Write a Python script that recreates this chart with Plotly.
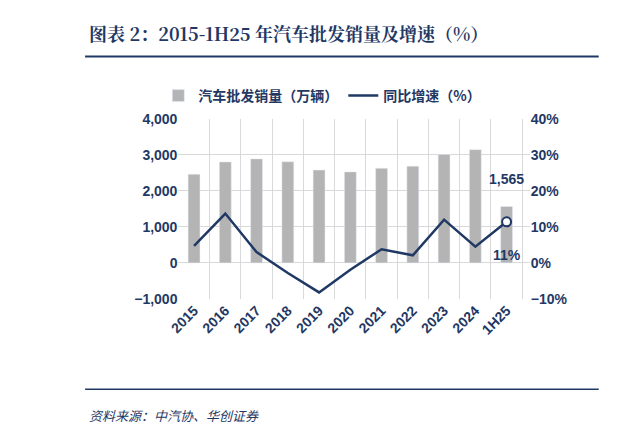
import plotly.graph_objects as go

years = ["2015","2016","2017","2018","2019","2020","2021","2022","2023","2024","1H25"]
sales = [2460, 2803, 2888, 2808, 2577, 2527, 2627, 2686, 3009, 3144, 1565]
growth = [4.7, 13.7, 3.0, -2.8, -8.2, -1.9, 3.8, 2.1, 12.0, 4.5, 11.4]

navy = "#1F3864"
bold = dict(size=14, color=navy, family="Liberation Sans, Arial", weight="bold")
fig = go.Figure()
fig.add_trace(go.Bar(x=years, y=sales, name="<b>汽车批发销量（万辆）</b>", marker_color="#B4B4B4", width=0.38))
fig.add_trace(go.Scatter(x=years, y=growth, name="<b>同比增速（%）</b>", yaxis="y2", mode="lines",
                         line=dict(color=navy, width=2.5)))
fig.add_trace(go.Scatter(x=[years[-1]], y=[growth[-1]], yaxis="y2", mode="markers", showlegend=False,
                         marker=dict(size=9, color="white", line=dict(color=navy, width=2))))
fig.add_annotation(x=years[-1], y=sales[-1], text=f"<b>{sales[-1]:,}</b>", showarrow=False, yshift=28,
                   font=bold)
fig.add_annotation(x=years[-1], y=growth[-1], yref="y2", text=f"<b>{round(growth[-1])}%</b>", showarrow=False,
                   yshift=-33, xshift=0, font=bold)
fig.add_annotation(xref="paper", yref="paper", x=0.113, y=0.995, xanchor="left", yanchor="top",
                   text="<b>图表 2：2015-1H25 年汽车批发销量及增速（%）</b>", showarrow=False,
                   font=dict(size=18, color=navy, family="Noto Serif CJK SC, Noto Sans CJK SC"))
fig.add_annotation(xref="paper", yref="paper", x=0.113, y=0.06, xanchor="left", yanchor="top",
                   text="<i>资料来源：中汽协、华创证券</i>", showarrow=False,
                   font=dict(size=13, color=navy, family="Noto Sans CJK SC"))
fig.add_shape(type="line", xref="paper", yref="paper", x0=0.11, x1=0.952, y0=0.902, y1=0.902,
              line=dict(color=navy, width=2))
fig.add_shape(type="line", xref="paper", yref="paper", x0=0.11, x1=0.952, y0=0.096, y1=0.096,
              line=dict(color=navy, width=1.5))
fig.update_layout(
    width=620, height=429, margin=dict(l=0, r=0, t=0, b=0),
    plot_bgcolor="white", paper_bgcolor="white",
    font=dict(family="Liberation Sans, Arial", size=14, color=navy),
    legend=dict(orientation="h", x=0.23, y=0.845, xanchor="left", yanchor="top",
                font=dict(size=14, color=navy, family="Noto Sans CJK SC"), traceorder="normal"),
    xaxis=dict(domain=[0.263, 0.839], tickangle=-45, tickson="boundaries", showgrid=True,
               gridcolor="#D9D9D9", showline=False, tickfont=bold, ticks=""),
    yaxis=dict(range=[-1000, 4000], dtick=1000, tickformat=",", showgrid=True, gridcolor="#D9D9D9",
               zeroline=False, domain=[0.315, 0.751], tickfont=bold),
    yaxis2=dict(range=[-10, 40], dtick=10, ticksuffix="%", overlaying="y", side="right",
                showgrid=False, zeroline=False, tickfont=bold),
)
fig.write_html("out.html")
